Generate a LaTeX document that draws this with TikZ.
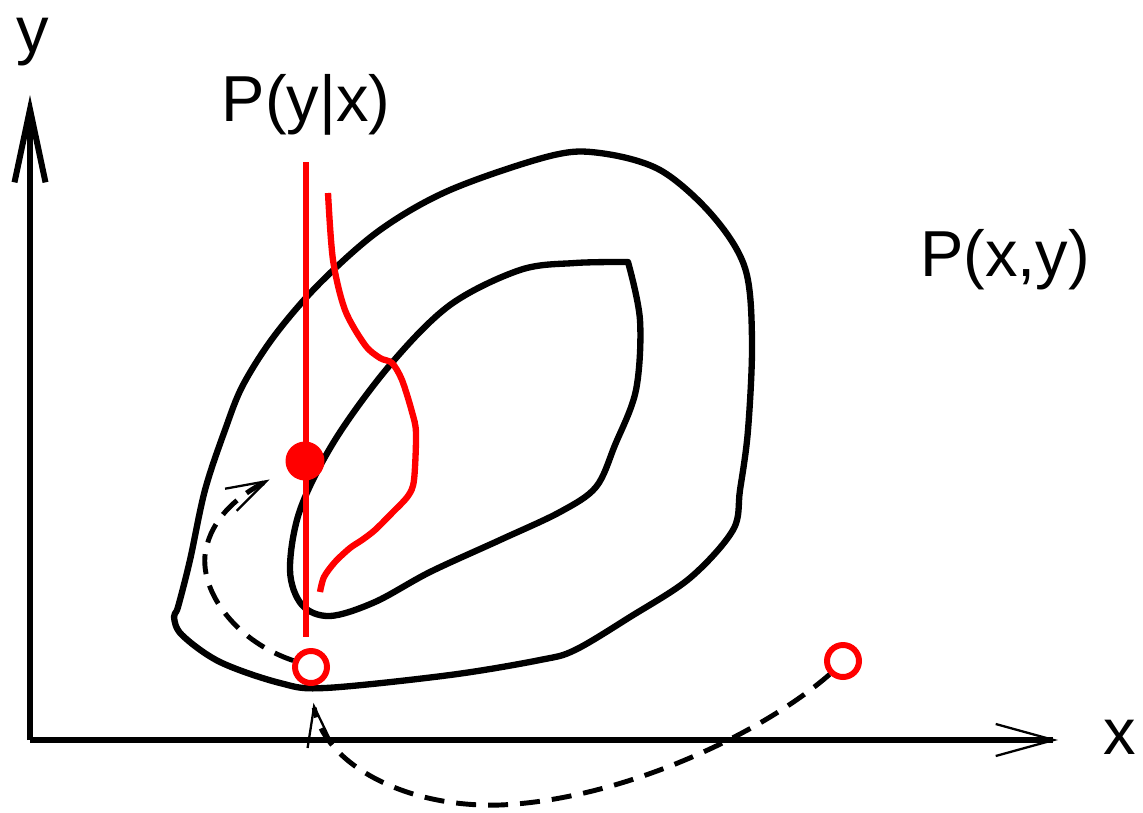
\documentclass[tikz,border=0pt]{standalone}
\usepackage{fontspec}
\setmainfont{Liberation Sans}
\usetikzlibrary{arrows.meta}

\begin{document}
\begin{tikzpicture}[x=0.02cm, y=-0.02cm,
    yaxis/.style={line width=3.4pt, -{Straight Barb[length=1.46cm, width=0.62cm]}},
    xaxis/.style={line width=3.4pt, -{Straight Barb[length=1.16cm, width=0.64cm, line width=1.3pt]}},
    curve/.style={line width=3.6pt, line join=round},
    cond/.style={red, line width=3.6pt, line join=round},
    hollow/.style={circle, draw=red, line width=3.4pt, minimum size=0.64cm, inner sep=0pt},
    dot/.style={circle, fill=red, minimum size=0.78cm, inner sep=0pt},
    jump/.style={dash pattern=on 0.4cm off 0.24cm, line width=2.8pt,
                 -{Straight Barb[length=0.8cm, width=0.5cm, line width=1.3pt]}},
    lbl/.style={font=\fontsize{37}{40}\selectfont}]
    \useasboundingbox (0,0) rectangle (1143,812);
    % axes
    \coordinate (o) at (30,740);
    \coordinate (ytip) at (30,95);
    \coordinate (xtip) at (1058,740);
    \draw[yaxis] (o) -- (ytip);
    \draw[xaxis] (o) -- (xtip);
    \node[lbl] (ylbl) at (33,42) {y};
    \node[lbl] (xlbl) at (1120,737) {x};
    % joint density
    \draw[curve] plot[smooth cycle, tension=0.55] coordinates {
      (178,607) (190,560) (205,490) (225,430) (243,385) (275,335) (320,283)
      (380,230) (450,190) (550,156) (600,153) (660,170) (712,215) (745,268)
      (752,340) (748,430) (740,490) (733,530) (690,578) (630,617) (575,650)
      (540,660) (450,675) (325,688) (280,683) (220,662) (182,635) (174,617)};
    \draw[curve] plot[smooth, tension=0.55] coordinates {
      (628,262) (640,320) (636,390) (615,445) (596,487) (560,512) (500,540)
      (430,572) (375,602) (330,616) (302,605) (290,570) (300,510) (335,440)
      (390,365) (450,305) (520,270) (575,263) (628,262)} -- cycle;
    \node[lbl] (pxy) at (1005,260) {P(x,y)};
    % conditional
    \coordinate (ctop) at (306,162);
    \coordinate (cbot) at (306,637);
    \draw[cond] (ctop) -- (cbot);
    \draw[cond] plot[smooth, tension=0.5] coordinates {
      (328,193) (333,260) (345,310) (365,345) (380,358) (392,363) (402,380)
      (412,412) (416,433) (414,480) (408,496) (392,513) (375,530) (362,540)
      (350,548) (335,562) (324,577) (320,592)};
    \node[lbl] (pyx) at (306,105) {P(y|x)};
    % samples
    \node[dot] (samp) at (305,461) {};
    \node[hollow] (proj) at (311,667) {};
    \node[hollow] (start) at (843,661) {};
    \draw[jump, shorten >=0.34cm] (start.south west)
      .. controls (760,735) and (620,800) .. (500,805)
      .. controls (400,808) and (322,760) .. (proj.south);
    \draw[jump, shorten >=0.4cm] (proj.160)
      .. controls (232,640) and (195,585) .. (207,545)
      .. controls (215,515) and (240,495) .. (samp);
\end{tikzpicture}
\end{document}
